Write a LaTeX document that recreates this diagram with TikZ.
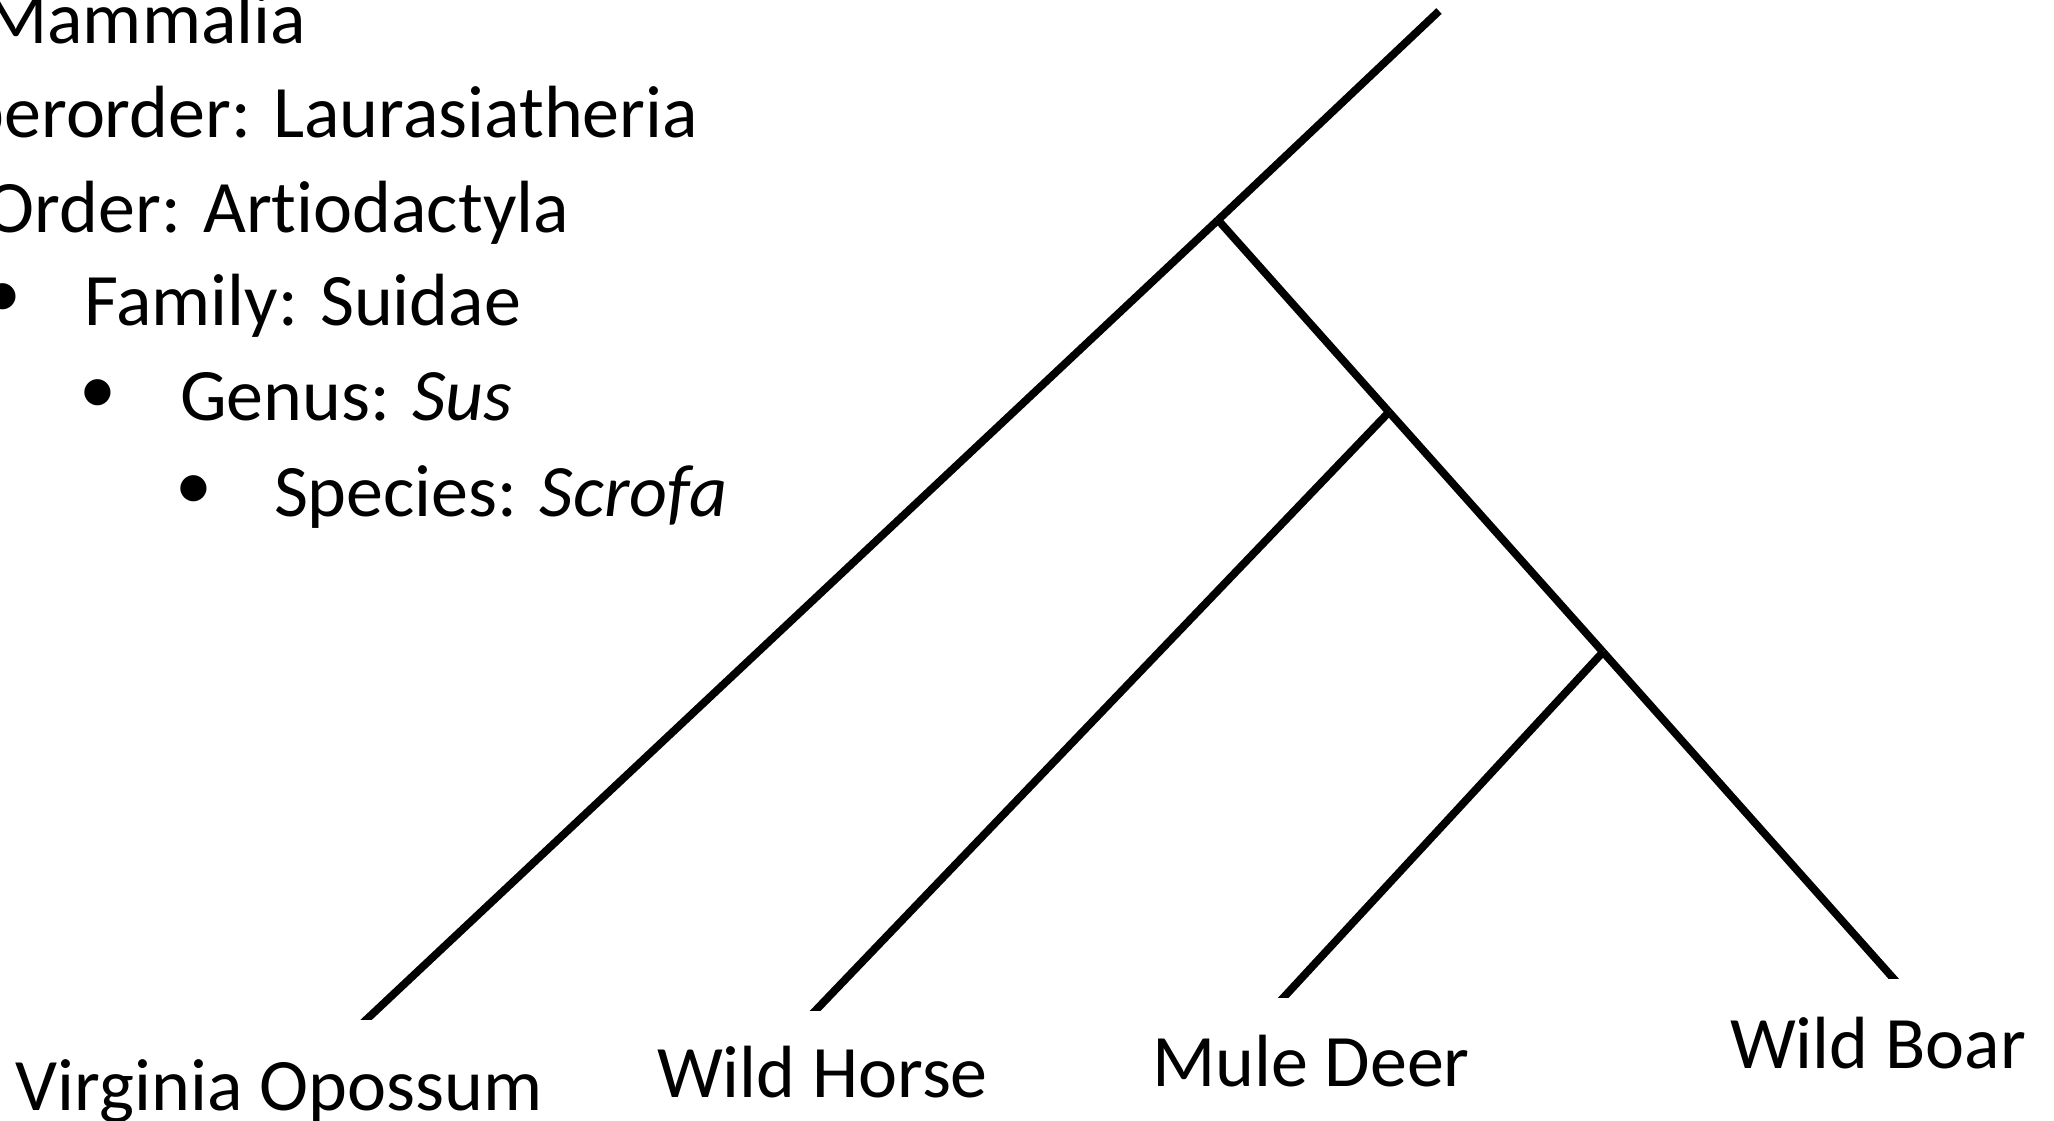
\documentclass[tikz,border=0pt]{standalone}
\usepackage{fontspec}
\setmainfont{Carlito}[Ligatures=NoCommon]
\begin{document}
\begin{tikzpicture}[x=0.5pt,y=-0.5pt,
  branch/.style={line width=3.9pt, line cap=butt},
  lbl/.style={inner sep=0pt, outer sep=0pt, font=\fontsize{37pt}{45pt}\selectfont},
]
\useasboundingbox (0,0) rectangle (2054,1120);
\clip (0,0) rectangle (2054,1120);

% branch points and tips of the tree
\coordinate (top) at (1439,11);
\coordinate (A) at (1218,220);
\coordinate (B) at (1389,412);
\coordinate (C) at (1603,652);
\coordinate (opo) at (367,1019);
\coordinate (hor) at (816,1010);
\coordinate (dee) at (1284,997);
\coordinate (boa) at (1893,978);

% stem and inner branches
\draw[branch] (top) -- (A);
\draw[branch] (A) -- (B);
\draw[branch] (B) -- (C);

% terminal branches, cut flat at the tip level
\begin{scope}
  \clip (0,0) rectangle (2054,1019);
  \draw[branch, shorten >=-4pt] (A) -- (opo);
\end{scope}
\begin{scope}
  \clip (0,0) rectangle (2054,1010);
  \draw[branch, shorten >=-4pt] (B) -- (hor);
\end{scope}
\begin{scope}
  \clip (0,0) rectangle (2054,997);
  \draw[branch, shorten >=-4pt] (C) -- (dee);
\end{scope}
\begin{scope}
  \clip (0,0) rectangle (2054,978);
  \draw[branch, shorten >=-4pt] (C) -- (boa);
\end{scope}

% tip labels
\node[lbl, anchor=base west] (opossum) at (16,1110) {Virginia Opossum};
\node[lbl, anchor=base west] (horse) at (657,1097) {Wild Horse};
\node[lbl, anchor=base west] (deer) at (1152,1086) {Mule Deer};
\node[lbl, anchor=base west] (boar) at (1730,1068) {Wild Boar};

% classification list
\node[lbl, anchor=base east] (cls) at (306,43) {Mammalia};
\node[lbl, anchor=base east] (sup) at (698,137) {Superorder: Laurasiatheria};
\node[lbl, anchor=base east] (ord) at (569,232) {Order: Artiodactyla};
\node[lbl] (b1) at (3,301) {•};
\node[lbl, anchor=base west] (fam) at (84,325) {Family: Suidae};
\node[lbl] (b2) at (98,397) {•};
\node[lbl, anchor=base west] (gen) at (180,420) {Genus: \textit{Sus}};
\node[lbl] (b3) at (194,493) {•};
\node[lbl, anchor=base west] (spe) at (274,516) {Species: \textit{Scrofa}};
\end{tikzpicture}
\end{document}
